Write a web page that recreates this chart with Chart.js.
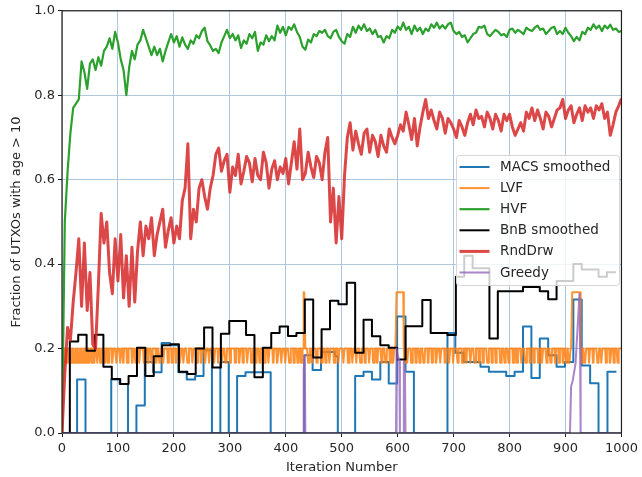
<!DOCTYPE html>
<html>
<head>
<meta charset="utf-8">
<script src="https://cdn.jsdelivr.net/npm/chart.js@4.4.1/dist/chart.umd.min.js"></script>
<style>
    html, body { margin: 0; padding: 0; background: #ffffff; }
    #wrap { width: 642px; height: 477px; }
</style>
</head>
<body>
<div id="wrap"><canvas id="chart" width="642" height="477"></canvas></div>
<script>
// ─── Data ────────────────────────────────────────────────────────────────────
const xTicks = [0, 100, 200, 300, 400, 500, 600, 700, 800, 900, 1000];
const yTicks = [0, 0.2, 0.4, 0.6, 0.8, 1.0];

// HVF and RndDrw are read every 5 iterations
const sampleStep = 5;

const hvfValues = [
    0.00, 0.50, 0.62, 0.71, 0.77, 0.78, 0.79, 0.88, 0.855, 0.815,
    0.875, 0.885, 0.86, 0.89, 0.87, 0.905, 0.915, 0.935, 0.91, 0.95,
    0.925, 0.885, 0.86, 0.80, 0.865, 0.905, 0.885, 0.92, 0.93, 0.955,
    0.935, 0.915, 0.895, 0.915, 0.895, 0.91, 0.88, 0.905, 0.925, 0.945,
    0.925, 0.94, 0.915, 0.937, 0.92, 0.91, 0.93, 0.922, 0.942, 0.935,
    0.952, 0.96, 0.928, 0.918, 0.905, 0.91, 0.90, 0.925, 0.94, 0.955,
    0.935, 0.945, 0.93, 0.942, 0.912, 0.93, 0.922, 0.945, 0.935, 0.95,
    0.905, 0.925, 0.92, 0.942, 0.928, 0.94, 0.93, 0.965, 0.948, 0.962,
    0.942, 0.962, 0.955, 0.968, 0.95, 0.938, 0.915, 0.908, 0.932, 0.925,
    0.945, 0.94, 0.952, 0.948, 0.955, 0.94, 0.935, 0.95, 0.955, 0.938,
    0.928, 0.922, 0.945, 0.938, 0.962, 0.948, 0.965, 0.955, 0.968, 0.952,
    0.958, 0.945, 0.955, 0.938, 0.94, 0.925, 0.94, 0.935, 0.955, 0.948,
    0.963, 0.955, 0.972, 0.955, 0.962, 0.945, 0.965, 0.952, 0.96, 0.945,
    0.958, 0.952, 0.968, 0.96, 0.972, 0.958, 0.966, 0.958, 0.968, 0.972,
    0.952, 0.945, 0.95, 0.938, 0.942, 0.925, 0.935, 0.945, 0.948, 0.962,
    0.96, 0.965, 0.945, 0.94, 0.948, 0.955, 0.95, 0.942, 0.945, 0.938,
    0.955, 0.958, 0.948, 0.955, 0.95, 0.945, 0.96, 0.955, 0.952, 0.96,
    0.965, 0.955, 0.958, 0.945, 0.952, 0.96, 0.962, 0.945, 0.952, 0.945,
    0.96, 0.948, 0.94, 0.928, 0.938, 0.93, 0.95, 0.945, 0.96, 0.955,
    0.968, 0.958, 0.965, 0.952, 0.965, 0.958, 0.967, 0.955, 0.958, 0.95,
    0.952,
];

const rndDrwValues = [
    0.00, 0.14, 0.25, 0.22, 0.31, 0.38, 0.46, 0.30, 0.45, 0.29,
    0.38, 0.21, 0.20, 0.35, 0.52, 0.45, 0.50, 0.38, 0.33, 0.46,
    0.36, 0.47, 0.32, 0.42, 0.30, 0.44, 0.31, 0.43, 0.50, 0.42,
    0.49, 0.46, 0.51, 0.42, 0.47, 0.50, 0.53, 0.44, 0.48, 0.51,
    0.45, 0.49, 0.46, 0.55, 0.58, 0.685, 0.46, 0.53, 0.50, 0.58,
    0.60, 0.56, 0.53, 0.58, 0.61, 0.66, 0.675, 0.62, 0.645, 0.66,
    0.57, 0.63, 0.61, 0.66, 0.59, 0.62, 0.655, 0.64, 0.595, 0.65,
    0.61, 0.60, 0.665, 0.64, 0.58, 0.625, 0.645, 0.60, 0.63, 0.615,
    0.65, 0.59, 0.64, 0.69, 0.625, 0.72, 0.60, 0.615, 0.665, 0.63,
    0.605, 0.655, 0.64, 0.60, 0.665, 0.70, 0.50, 0.58, 0.45, 0.56,
    0.46, 0.61, 0.70, 0.735, 0.67, 0.715, 0.685, 0.66, 0.71, 0.72,
    0.665, 0.705, 0.69, 0.655, 0.705, 0.68, 0.665, 0.72, 0.70, 0.685,
    0.705, 0.73, 0.715, 0.76, 0.73, 0.695, 0.745, 0.68, 0.725, 0.76,
    0.79, 0.745, 0.765, 0.74, 0.72, 0.76, 0.745, 0.71, 0.745, 0.735,
    0.72, 0.70, 0.74, 0.725, 0.705, 0.735, 0.755, 0.73, 0.765, 0.745,
    0.75, 0.725, 0.76, 0.745, 0.72, 0.755, 0.74, 0.715, 0.755, 0.74,
    0.755, 0.725, 0.705, 0.72, 0.735, 0.715, 0.76, 0.745, 0.77, 0.74,
    0.765, 0.745, 0.72, 0.76, 0.75, 0.725, 0.745, 0.765, 0.77, 0.79,
    0.745, 0.765, 0.775, 0.735, 0.755, 0.77, 0.74, 0.775, 0.76, 0.77,
    0.745, 0.775, 0.765, 0.78, 0.745, 0.76, 0.705, 0.73, 0.76, 0.775,
    0.792,
];

// step series: each value holds from its iteration until the next one
const macsX = [0, 27, 42, 88, 103, 118, 133, 148, 163, 178,
    193, 208, 223, 238, 253, 268, 283, 298, 313, 328,
    373, 433, 448, 463, 488, 493, 524, 539, 554, 569,
    584, 599, 614, 629, 689, 703, 718, 748, 763, 794,
    809, 824, 839, 854, 869, 884, 899, 914, 929, 944,
    959, 975, 991];
const macsY = [0, 0.127, 0, 0.127, 0.116, 0, 0.065, 0.168, 0.144, 0.213,
    0.208, 0.144, 0.127, 0.135, 0.196, 0, 0.168, 0, 0.135, 0.144,
    0, 0.184, 0.149, 0.192, 0.182, 0, 0.135, 0.145, 0.127, 0.168,
    0.117, 0.276, 0.145, 0, 0.237, 0.19, 0.168, 0.157, 0.145, 0.135,
    0.145, 0.252, 0.13, 0.224, 0.184, 0.157, 0.168, 0.316, 0.16, 0.118,
    0, 0.145, 0.145];

const bnbX = [0, 14, 29, 44, 59, 74, 89, 104, 119, 134,
    149, 164, 179, 194, 209, 224, 239, 254, 269, 284,
    299, 329, 344, 359, 374, 389, 404, 419, 434, 449,
    464, 479, 494, 509, 524, 539, 554, 569, 584, 599,
    614, 644, 659, 689, 704, 719, 734, 764, 779, 824,
    854, 869, 884, 914, 929, 959, 974, 990];
const bnbY = [0, 0.217, 0.233, 0.195, 0.233, 0.157, 0.128, 0.116, 0.135, 0.202,
    0.135, 0.182, 0.208, 0.21, 0.145, 0.14, 0.2, 0.25, 0.155, 0.235,
    0.265, 0.232, 0.132, 0.202, 0.237, 0.252, 0.23, 0.237, 0.316, 0.179,
    0.246, 0.313, 0.305, 0.356, 0.19, 0.268, 0.229, 0.208, 0.202, 0.174,
    0.253, 0.315, 0.237, 0.232, 0.37, 0.42, 0.39, 0.224, 0.336, 0.346,
    0.336, 0.317, 0.36, 0.40, 0.387, 0.37, 0.381, 0.381];

const greedyX = [0, 431, 432, 434, 435, 597, 598, 600, 603, 604, 610, 611, 613, 614,
    908, 910, 913, 918, 922, 925, 926, 927, 1000];
const greedyY = [0, 0, 0.15, 0.184, 0, 0, 0.2, 0.185, 0.17, 0, 0, 0.17, 0.15, 0,
    0, 0.11, 0.125, 0.165, 0.26, 0.33, 0.2, 0, 0];

// LVF sits at 1/5, drops to 1/6 on these iteration runs, jumps to 1/3 on a few
const lvfLast = 1000;
const lvfBase = 0.2;
const lvfLow = 1 / 6;
const lvfHigh = 1 / 3;
const lvfRamp = [0, 0.1, 0.143, 0.18];
const lvfLowRuns = [
    [5, 6], [8, 10], [12, 13], [15, 17], [19, 20], [22, 24], [26, 27], [29, 31], [33, 34], [36, 38],
    [41, 42], [44, 45], [48, 50], [53, 54], [57, 58], [63, 64], [68, 70], [76, 77], [82, 83], [89, 91],
    [97, 98], [104, 105], [109, 110], [116, 118], [125, 126], [131, 132], [138, 139], [146, 148], [153, 154], [160, 161],
    [168, 169], [174, 176], [181, 182], [189, 190], [196, 197], [203, 205], [211, 212], [217, 218], [224, 226], [233, 234],
    [241, 242], [248, 250], [256, 257], [263, 264], [271, 273], [279, 280], [286, 287], [292, 294], [300, 301], [309, 310],
    [316, 318], [323, 324], [331, 332], [338, 340], [346, 347], [353, 354], [361, 363], [369, 370], [377, 378], [384, 386],
    [392, 393], [399, 400], [406, 408], [414, 415], [421, 422], [427, 429], [440, 442], [447, 448], [455, 456], [463, 465],
    [471, 472], [478, 479], [486, 488], [494, 495], [503, 504], [511, 513], [519, 520], [526, 527], [533, 535], [541, 542],
    [549, 550], [556, 558], [563, 564], [571, 572], [578, 580], [586, 587], [591, 593], [612, 614], [617, 618], [624, 626],
    [632, 633], [639, 640], [646, 648], [654, 655], [661, 662], [668, 670], [676, 677], [684, 685], [691, 693], [699, 700],
    [707, 708], [715, 717], [722, 723], [730, 731], [737, 739], [745, 746], [752, 753], [760, 762], [768, 769], [775, 776],
    [783, 785], [791, 792], [798, 799], [806, 808], [813, 814], [821, 822], [828, 830], [836, 837], [843, 844], [851, 853],
    [858, 859], [866, 867], [873, 875], [881, 882], [888, 889], [895, 897], [901, 903], [905, 908], [929, 930], [934, 936],
    [942, 943], [949, 950], [957, 959], [964, 965], [972, 973], [979, 981], [986, 987], [993, 994],
];
const lvfHighRuns = [[432, 434], [598, 610], [912, 926]];

// ─── Build points ────────────────────────────────────────────────────────────
const sampled = vals => vals.map((v, i) => ({ x: i * sampleStep, y: v }));
const paired = (xs, ys) => xs.map((x, i) => ({ x, y: ys[i] }));
const inRuns = (runs, it) => runs.some(([a, b]) => it >= a && it <= b);

function lvfPoints() {
    const pts = [];
    for (let it = 0; it <= lvfLast; it++) {
        let y = it < lvfRamp.length ? lvfRamp[it] : lvfBase;
        if (inRuns(lvfLowRuns, it)) y = lvfLow;
        if (inRuns(lvfHighRuns, it)) y = lvfHigh;
        pts.push({ x: it, y });
    }
    return pts;
}

// ─── Plugins ─────────────────────────────────────────────────────────────────
const frame = {
    id: 'frame',
    afterDatasetsDraw(chart) {
        const { ctx, chartArea: a } = chart;
        ctx.save();
        ctx.strokeStyle = '#1e1e1e';
        ctx.lineWidth = 1.2;
        ctx.strokeRect(a.left, a.top, a.right - a.left, a.bottom - a.top);
        ctx.restore();
    },
};

const boxLegend = {
    id: 'boxLegend',
    afterDraw(chart) {
        const { ctx } = chart;
        const x = 456.5, y = 155.5, w = 163, h = 130;
        ctx.save();
        ctx.beginPath();
        ctx.roundRect(x, y, w, h, 3);
        ctx.fillStyle = 'rgba(255,255,255,0.8)';
        ctx.fill();
        ctx.strokeStyle = '#d6d6d6';
        ctx.lineWidth = 1;
        ctx.stroke();

        ctx.font = '13.5px "DejaVu Sans"';
        ctx.textBaseline = 'middle';
        chart.data.datasets.forEach((ds, i) => {
            const ly = y + 11.5 + i * 21.1;
            ctx.beginPath();
            ctx.moveTo(x + 3, ly);
            ctx.lineTo(x + 33, ly);
            ctx.strokeStyle = ds.borderColor;
            ctx.lineWidth = ds.borderWidth;
            ctx.stroke();
            ctx.fillStyle = '#262626';
            ctx.fillText(ds.label, x + 43.5, ly + 0.5);
        });
        ctx.restore();
    },
};

// ─── Chart ───────────────────────────────────────────────────────────────────
Chart.defaults.font.family = '"DejaVu Sans", sans-serif';
Chart.defaults.color = '#262626';

const gridColor = 'rgb(176,200,222)';
const tickFont = { size: 13 };

new Chart(document.getElementById('chart'), {
    type: 'line',
    data: {
        datasets: [
            { label: 'MACS smoothed', data: paired(macsX, macsY), stepped: 'before',
              borderColor: '#1f77b4', borderWidth: 2, order: 6 },
            { label: 'LVF', data: lvfPoints(),
              borderColor: 'rgba(255,127,14,0.85)', borderWidth: 2, order: 5 },
            { label: 'HVF', data: sampled(hvfValues),
              borderColor: '#2ca02c', borderWidth: 2.2, order: 4 },
            { label: 'BnB smoothed', data: paired(bnbX, bnbY), stepped: 'before',
              borderColor: '#000000', borderWidth: 2, order: 3 },
            { label: 'RndDrw', data: sampled(rndDrwValues),
              borderColor: 'rgba(214,39,40,0.85)', borderWidth: 3, order: 2 },
            { label: 'Greedy', data: paired(greedyX, greedyY),
              borderColor: 'rgba(148,103,189,0.8)', borderWidth: 2, order: 1 },
        ],
    },
    options: {
        responsive: false,
        animation: false,
        devicePixelRatio: 1,
        layout: { padding: { top: 10, right: 16, left: 0, bottom: 0 } },
        elements: {
            point: { radius: 0, hoverRadius: 0 },
            line: { tension: 0, borderJoinStyle: 'round', fill: false },
        },
        plugins: {
            legend: { display: false },
            tooltip: { enabled: false },
        },
        scales: {
            x: {
                type: 'linear',
                min: 0,
                max: 1000,
                afterBuildTicks: s => { s.ticks = xTicks.map(v => ({ value: v })); },
                afterFit: s => { s.height = 44; },
                grid: { color: gridColor, lineWidth: 1, tickLength: 4, tickColor: '#1e1e1e', tickWidth: 1 },
                border: { display: false },
                ticks: { font: tickFont, padding: 4, maxRotation: 0, autoSkip: false, callback: v => String(v) },
                title: { display: true, text: 'Iteration Number', font: { size: 13 }, padding: { top: 0, bottom: 2 } },
            },
            y: {
                min: 0,
                max: 1,
                afterBuildTicks: s => { s.ticks = yTicks.map(v => ({ value: v })); },
                afterFit: s => { s.width = 62; },
                grid: { color: gridColor, lineWidth: 1, tickLength: 4, tickColor: '#1e1e1e', tickWidth: 1 },
                border: { display: false },
                ticks: { font: tickFont, padding: 3, callback: v => v.toFixed(1) },
                title: { display: true, text: 'Fraction of UTXOs with age > 10', font: { size: 13 }, padding: { top: 9, bottom: 0 } },
            },
        },
    },
    plugins: [frame, boxLegend],
});
</script>
</body>
</html>
